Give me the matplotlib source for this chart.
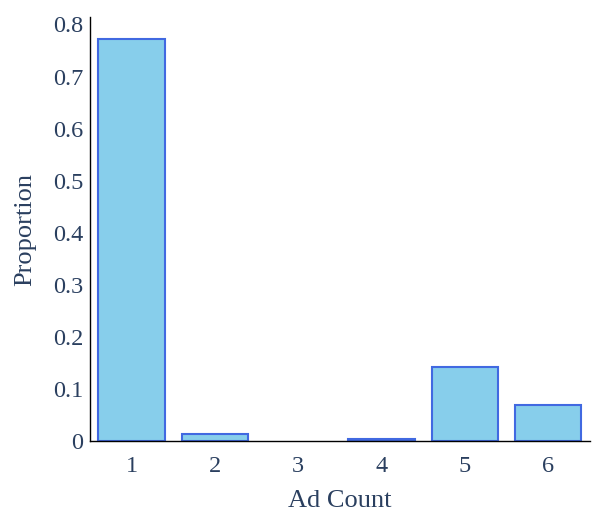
import matplotlib
matplotlib.use("Agg")
import matplotlib.pyplot as plt

categories = [1, 2, 3, 4, 5, 6]
proportions = [0.773, 0.0135, 0.0, 0.003, 0.142, 0.069]
yticks = [0, 0.1, 0.2, 0.3, 0.4, 0.5, 0.6, 0.7, 0.8]
ytick_labels = ["0", "0.1", "0.2", "0.3", "0.4", "0.5", "0.6", "0.7", "0.8"]

text_color = "#2a3f5f"
plt.rcParams['font.family'] = ['Liberation Serif', 'DejaVu Serif']

fig = plt.figure(figsize=(6, 5.2), dpi=100)
ax = fig.add_axes([0.15, 0.152, 0.833, 0.815])
edge_colors = ["#4169E1" if v > 0 else "none" for v in proportions]
ax.bar(categories, proportions, width=0.8, color="#87CEEB", edgecolor=edge_colors, linewidth=1.5)
ax.set_xlim(0.5, 6.5)
ax.set_ylim(0, 0.814)
ax.set_xticks(categories)
ax.set_xticklabels([str(c) for c in categories])
ax.set_yticks(yticks)
ax.set_yticklabels(ytick_labels)
ax.tick_params(axis='both', length=0, labelsize=17.5, colors=text_color)
ax.tick_params(axis='x', pad=11)
ax.tick_params(axis='y', pad=5)
for s in ['top', 'right']:
    ax.spines[s].set_visible(False)
for s in ['left', 'bottom']:
    ax.spines[s].set_color('black')
    ax.spines[s].set_linewidth(1)
ax.set_xlabel("Ad Count", fontsize=19, color=text_color, labelpad=9)
ax.set_ylabel("Proportion", fontsize=19, color=text_color, labelpad=12)
fig.savefig("out.png", dpi=100, facecolor="white")
